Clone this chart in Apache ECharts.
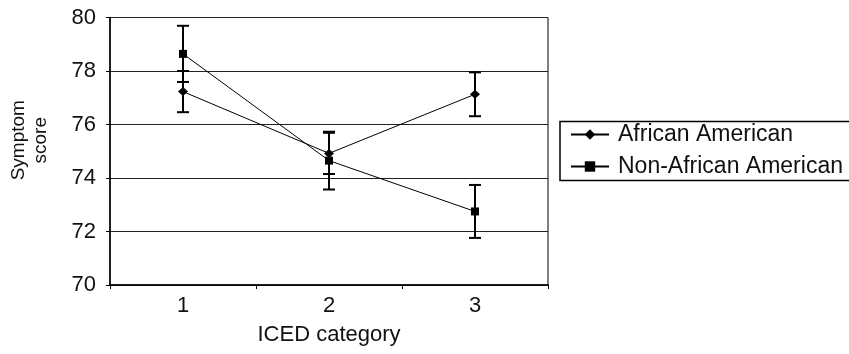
<!DOCTYPE html>
<html>
<head>
<meta charset="utf-8">
<script src="https://cdn.jsdelivr.net/npm/echarts@6/dist/echarts.min.js"></script>
<style>
  html, body { margin: 0; padding: 0; background: #fff; }
  #chart { width: 849px; height: 354px; }
</style>
</head>
<body>
<div id="chart"></div>
<script>
// ICED category on x
const categories = ['1', '2', '3']
const seriesNames = ['African American', 'Non-African American']
// mean symptom score and error bar half-length
const africanAmerican = [77.23, 74.92, 77.13]
const africanAmericanErr = [0.77, 0.77, 0.82]
const nonAfricanAmerican = [78.64, 74.65, 72.75]
const nonAfricanAmericanErr = [1.05, 1.08, 0.99]
const yTicks = { min: 70, max: 80, step: 2 }

const font = 'Liberation Sans, Arial, sans-serif'
const chart = echarts.init(document.getElementById('chart'))

function errData (vals, errs) {
  return vals.map((v, i) => [i, v, errs[i]])
}

function renderErr (params, api) {
  const x = api.value(0)
  const v = api.value(1)
  const e = api.value(2)
  const hi = api.coord([x, v + e])
  const lo = api.coord([x, v - e])
  const cap = 6
  const style = { stroke: '#000', lineWidth: 2 }
  return {
    type: 'group',
    children: [
      { type: 'line', shape: { x1: hi[0], y1: hi[1], x2: lo[0], y2: lo[1] }, style },
      { type: 'line', shape: { x1: hi[0] - cap, y1: hi[1], x2: hi[0] + cap, y2: hi[1] }, style },
      { type: 'line', shape: { x1: lo[0] - cap, y1: lo[1], x2: lo[0] + cap, y2: lo[1] }, style }
    ]
  }
}

const option = {
  animation: false,
  textStyle: { fontFamily: font },
  grid: {
    left: 110, right: 301, top: 17.5, bottom: 69,
    show: true, borderColor: '#000', borderWidth: 1
  },
  legend: {
    orient: 'vertical',
    left: 560, top: 121.5,
    padding: [1, 30, 2, 10],
    borderColor: '#000', borderWidth: 1.5,
    itemWidth: 38, itemHeight: 13, itemGap: 8,
    textStyle: { fontSize: 23, color: '#111', lineHeight: 24, padding: [0, 0, 0, 4] },
    data: seriesNames.map(n => ({ name: n, lineStyle: { width: 2, color: '#000' } }))
  },
  xAxis: {
    type: 'category',
    data: categories,
    boundaryGap: true,
    name: 'ICED category',
    nameLocation: 'middle',
    nameGap: 39,
    nameTextStyle: { fontSize: 22, color: '#111' },
    axisLine: { lineStyle: { color: '#000', width: 1.5 } },
    axisTick: { show: true, length: 4, lineStyle: { color: '#000' } },
    axisLabel: { fontSize: 22, color: '#111', margin: 10 }
  },
  yAxis: {
    type: 'value',
    min: yTicks.min, max: yTicks.max, interval: yTicks.step,
    name: 'Symptom\nscore',
    nameLocation: 'middle',
    nameRotate: 90,
    nameGap: 58,
    nameTextStyle: { fontSize: 19, color: '#111', lineHeight: 22, align: 'center', padding: [0, 0, 0, 22] },
    axisLine: { show: true, lineStyle: { color: '#000', width: 1.5 } },
    axisTick: { show: true, length: 4, lineStyle: { color: '#000' } },
    axisLabel: { fontSize: 22, color: '#111', margin: 14 },
    splitLine: { show: true, lineStyle: { color: '#222', width: 1 } }
  },
  series: [
    {
      type: 'custom',
      renderItem: renderErr,
      data: errData(africanAmerican, africanAmericanErr),
      encode: { x: 0, y: 1 },
      z: 3,
      silent: true
    },
    {
      type: 'custom',
      renderItem: renderErr,
      data: errData(nonAfricanAmerican, nonAfricanAmericanErr),
      encode: { x: 0, y: 1 },
      z: 3,
      silent: true
    },
    {
      name: seriesNames[0],
      type: 'line',
      data: africanAmerican,
      symbol: 'diamond',
      symbolSize: [10, 9],
      itemStyle: { color: '#000' },
      lineStyle: { color: '#000', width: 1 },
      z: 4
    },
    {
      name: seriesNames[1],
      type: 'line',
      data: nonAfricanAmerican,
      symbol: 'rect',
      symbolSize: 8,
      itemStyle: { color: '#000' },
      lineStyle: { color: '#000', width: 1 },
      z: 4
    }
  ]
}

chart.setOption(option)
</script>
</body>
</html>
